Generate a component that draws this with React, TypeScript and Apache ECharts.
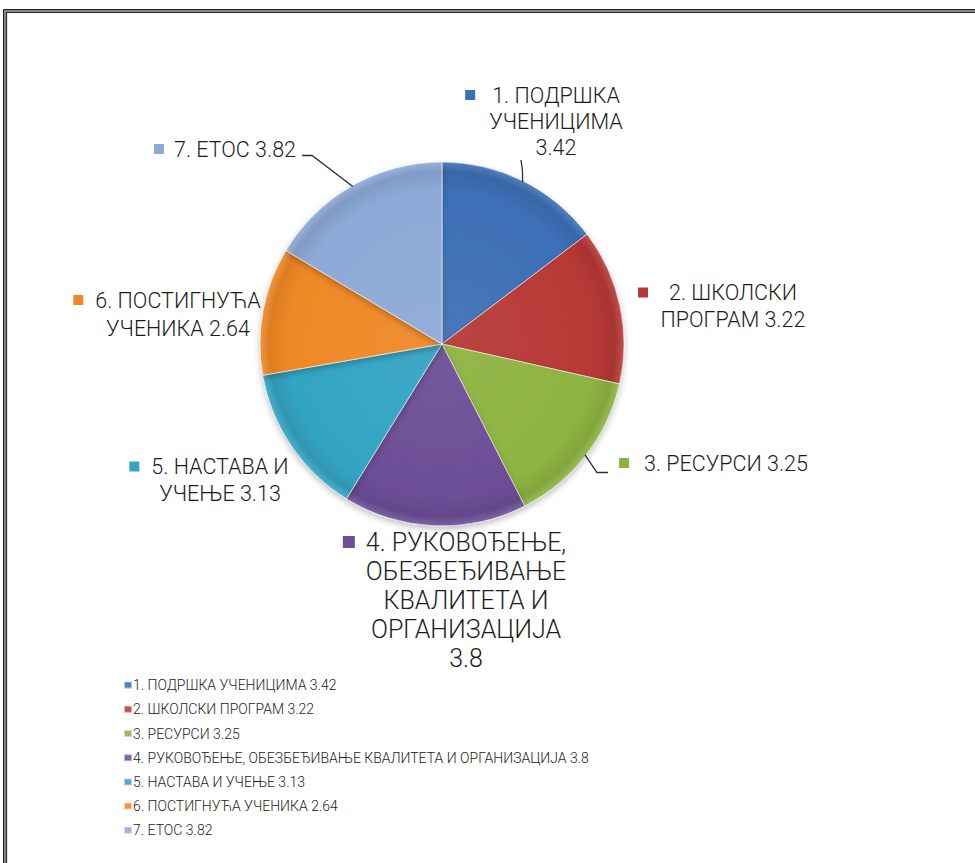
import React, { useEffect, useRef } from "react";
import * as echarts from "echarts";

// ---- data ----
const categories = [
  "1. ПОДРШКА УЧЕНИЦИМА",
  "2. ШКОЛСКИ ПРОГРАМ",
  "3. РЕСУРСИ",
  "4. РУКОВОЂЕЊЕ, ОБЕЗБЕЂИВАЊЕ КВАЛИТЕТА И ОРГАНИЗАЦИЈА",
  "5. НАСТАВА И УЧЕЊЕ",
  "6. ПОСТИГНУЋА УЧЕНИКА",
  "7. ЕТОС",
];
const values = [3.42, 3.22, 3.25, 3.8, 3.13, 2.64, 3.82];
// label text split into lines (value appended to the last line)
const labelLineTexts = [
  ["1. ПОДРШКА", "УЧЕНИЦИМА", ""],
  ["2. ШКОЛСКИ", "ПРОГРАМ "],
  ["3. РЕСУРСИ "],
  ["4. РУКОВОЂЕЊЕ,", "ОБЕЗБЕЂИВАЊЕ", "КВАЛИТЕТА И", "ОРГАНИЗАЦИЈА", ""],
  ["5. НАСТАВА И", "УЧЕЊЕ "],
  ["6. ПОСТИГНУЋА", "УЧЕНИКА "],
  ["7. ЕТОС "],
];

// ---- styles / layout ----
const colors = ["#3d6fb6", "#b73935", "#8db341", "#6c4e96", "#33a4c3", "#ef8826", "#8ca9d7"];
const CX = 442;
const CY = 344;
const R = 182;
const labelCenters = [
  [556, 121],
  [733, 306],
  [726, 463],
  [466, 600],
  [220, 480],
  [178, 314],
  [235, 149],
];
const labelGaps = [17, 21, 15, 11, 12, 12, 10];
const labelFontSizes = [21.5, 21.5, 21.5, 25, 21.5, 21.5, 21.5];
const labelSquares = [10, 10, 10, 12, 10, 10, 10];
const labelLineHeights = [26, 27, 27, 29, 27, 28, 27];
const leaderEnds: (number[][] | null)[] = [
  [[522.5, 171], [521, 160]],
  null,
  [[597, 472.5], [608, 472.5]],
  null,
  null,
  null,
  [[312, 155.5], [302, 155.5]],
];

function shade(hex: string, f: number) {
  const n = parseInt(hex.slice(1), 16);
  let r = (n >> 16) & 255, g = (n >> 8) & 255, b = n & 255;
  if (f >= 0) {
    r = Math.round(r + (255 - r) * f);
    g = Math.round(g + (255 - g) * f);
    b = Math.round(b + (255 - b) * f);
  } else {
    r = Math.round(r * (1 + f));
    g = Math.round(g * (1 + f));
    b = Math.round(b * (1 + f));
  }
  return `rgb(${r},${g},${b})`;
}

const FONT = 'Roboto, "Noto Sans", sans-serif';

export default function App() {
  const ref = useRef<HTMLDivElement>(null);
  useEffect(() => {
    if (!ref.current) return;
    const chart = echarts.init(ref.current, undefined, { renderer: "svg" });

    const names = categories.map((c, i) => `${c} ${values[i]}`);
    const total = values.reduce((a, b) => a + b, 0);

    const data = values.map((v, i) => {
      const lines = labelLineTexts[i].map((l, k, arr) => (k === arr.length - 1 ? l + v : l));
      const first = `{s|}{g|}{t|${lines[0]}}{g|}{p|}`;
      const rest = lines.slice(1).map((l) => `{t|${l}}`);
      const formatter = [first, ...rest].join("\n");
      const col = colors[i];
      return {
        name: names[i],
        value: v,
        itemStyle: {
          color: {
            type: "radial",
            x: CX,
            y: CY,
            r: R,
            global: true,
            colorStops: [
              { offset: 0, color: shade(col, 0.06) },
              { offset: 0.85, color: col },
              { offset: 0.95, color: shade(col, -0.08) },
              { offset: 1, color: shade(col, 0.12) },
            ],
          },
        },
        label: {
          formatter,
          rich: {
            s: { width: labelSquares[i], height: labelSquares[i], backgroundColor: col },
            g: { width: labelGaps[i] },
            p: { width: labelSquares[i] },
            t: {
              fontSize: labelFontSizes[i],
              lineHeight: labelLineHeights[i],
              color: "#1c1c1c",
              fontFamily: FONT,
              fontWeight: 300,
            },
          },
        },
      };
    });

    // leader lines: start on the slice edge at its mid angle (from the data)
    const leaders: any[] = [];
    values.forEach((v, i) => {
      const ends = leaderEnds[i];
      if (!ends) return;
      const before = values.slice(0, i).reduce((a, b) => a + b, 0);
      const ang = ((before + v / 2) / total) * Math.PI * 2;
      const start = [CX + Math.sin(ang) * (R - 1), CY - Math.cos(ang) * (R - 1)];
      leaders.push({
        type: "polyline",
        silent: true,
        z: 100,
        shape: { points: [start, ends[0], ends[1]] },
        style: { stroke: "#2e2e2e", lineWidth: 1.3, fill: null },
      });
    });

    chart.setOption({
      animation: false,
      backgroundColor: "#ffffff",
      color: colors,
      graphic: [
        {
          type: "rect",
          silent: true,
          shape: { x: 5.5, y: 11.5, width: 1200, height: 1200 },
          style: { fill: "none", stroke: "#8a8a8a", lineWidth: 3 },
        },
        {
          type: "rect",
          silent: true,
          shape: { x: 3.5, y: 9.5, width: 1200, height: 1200 },
          style: { fill: "none", stroke: "#1a1a1a", lineWidth: 1 },
        },
        {
          type: "rect",
          silent: true,
          shape: { x: 6.5, y: 12.5, width: 1200, height: 1200 },
          style: { fill: "none", stroke: "#2a2a2a", lineWidth: 1.2 },
        },
        ...leaders,
      ],
      legend: {
        orient: "vertical",
        left: 118,
        top: 673,
        icon: "rect",
        itemWidth: 8,
        itemHeight: 7,
        itemGap: 10,
        selectedMode: false,
        textStyle: {
          fontSize: 14,
          lineHeight: 14.2,
          color: "#1c1c1c",
          fontFamily: FONT,
          fontWeight: 300,
          padding: [0, 0, 0, -4],
        },
        data: names,
      },
      series: [
        {
          type: "pie",
          center: [CX, CY],
          radius: R,
          startAngle: 90,
          clockwise: true,
          avoidLabelOverlap: false,
          data,
          itemStyle: {
            borderColor: "rgba(255,255,255,0.55)",
            borderWidth: 1,
            shadowBlur: 6,
            shadowOffsetY: 3,
            shadowColor: "rgba(0,0,0,0.25)",
          },
          label: { show: true, position: "outside" },
          labelLine: { show: false },
          emphasis: { disabled: true },
          labelLayout: (params: any) => {
            const i = params.dataIndex;
            return {
              x: labelCenters[i][0],
              y: labelCenters[i][1],
              align: "center",
              verticalAlign: "middle",
            };
          },
        },
      ],
    });
    return () => chart.dispose();
  }, []);
  return (
    <div
      ref={ref}
      style={{ position: "fixed", left: 0, top: 0, width: 975, height: 863, background: "#fff" }}
    />
  );
}
